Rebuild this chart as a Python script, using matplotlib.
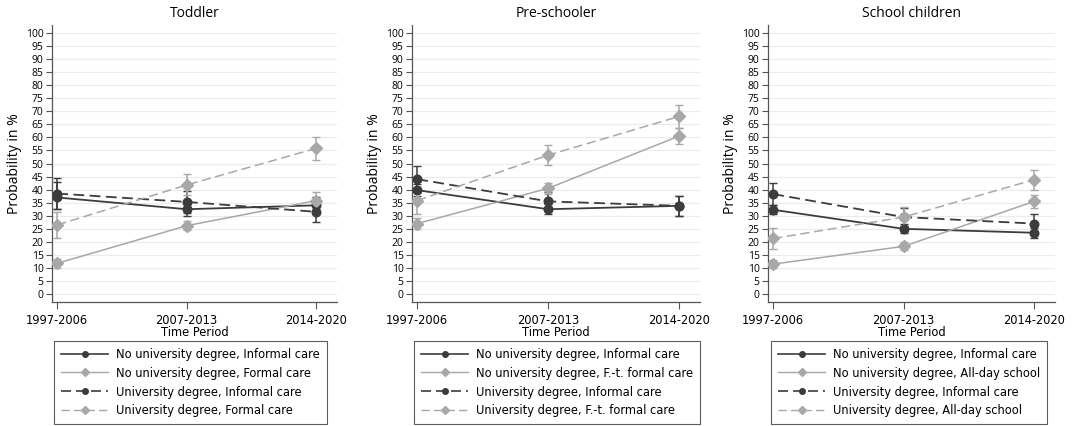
import numpy as np
import matplotlib
matplotlib.use('Agg')
import matplotlib.pyplot as plt
from matplotlib import font_manager
from matplotlib.lines import Line2D

periods = ['1997-2006', '2007-2013', '2014-2020']
titles = ['Toddler', 'Pre-schooler', 'School children']
formal_names = ['Formal care', 'F.-t. formal care', 'All-day school']

# estimates and confidence bounds per panel, series order:
# no uni informal, no uni formal, uni informal, uni formal
toddler_est = [[37.0, 32.5, 34.0], [11.8, 26.2, 35.8], [38.5, 35.3, 31.5], [26.5, 41.8, 55.8]]
toddler_lo = [[32.5, 30.0, 31.0], [10.0, 24.5, 32.5], [32.5, 31.0, 27.5], [21.5, 38.0, 51.5]]
toddler_hi = [[43.0, 35.0, 37.0], [13.5, 28.0, 39.0], [44.5, 39.5, 35.5], [31.5, 45.8, 60.0]]

presch_est = [[39.8, 32.5, 33.8], [27.0, 40.5, 60.5], [44.0, 35.5, 33.8], [35.8, 53.2, 68.0]]
presch_lo = [[37.5, 30.5, 30.0], [25.0, 38.5, 57.5], [39.0, 32.0, 30.0], [30.5, 49.5, 63.5]]
presch_hi = [[42.0, 34.5, 37.5], [29.0, 42.5, 63.5], [49.0, 39.0, 37.5], [41.0, 57.0, 72.5]]

school_est = [[32.3, 25.0, 23.5], [11.5, 18.3, 35.5], [38.3, 29.5, 27.0], [21.3, 29.5, 43.8]]
school_lo = [[30.5, 23.3, 21.5], [10.0, 17.0, 33.0], [34.0, 26.0, 23.5], [17.3, 26.0, 40.0]]
school_hi = [[34.0, 26.8, 25.5], [13.0, 19.8, 38.0], [42.7, 33.0, 30.5], [25.3, 33.2, 47.5]]

panels = [(toddler_est, toddler_lo, toddler_hi),
          (presch_est, presch_lo, presch_hi),
          (school_est, school_lo, school_hi)]

dark = '#3c3c3c'
light = '#a8a8a8'
styles = [
    dict(color=dark, ls='-', marker='o', ms=6.2, lw=1.3),
    dict(color=light, ls='-', marker='D', ms=6.0, lw=1.1),
    dict(color=dark, ls=(0, (6, 3)), marker='o', ms=6.2, lw=1.3),
    dict(color=light, ls=(0, (6, 3)), marker='D', ms=6.0, lw=1.1),
]

# look for a condensed regular face
cond = [f for f in font_manager.fontManager.ttflist
        if (f.stretch in ('condensed', 'semi-condensed') or 'Narrow' in f.name or 'Condensed' in f.name)
        and f.weight in (400, 'normal', 'regular', 'book') and f.style == 'normal']
if cond:
    narrow = dict(fname=cond[0].fname)
    nsize = 9.2
else:
    narrow = dict(family='DejaVu Sans')
    nsize = 8
nprop = font_manager.FontProperties(size=nsize, **narrow)

plt.rcParams['font.family'] = ['Open Sans', 'DejaVu Sans']

fig = plt.figure(figsize=(10.74, 4.26), dpi=100)
lefts = [52, 412, 768]
widths = [285, 288, 287]
leg_left = [54, 414, 771]
x = np.arange(len(periods))

for k in range(3):
    ax = fig.add_axes([lefts[k] / 1074, 1 - 302 / 426, widths[k] / 1074, 277 / 426])
    est, lo, hi = panels[k]
    for i in range(4):
        e = np.array(est[i]); l = np.array(lo[i]); h = np.array(hi[i])
        st = styles[i]
        ax.errorbar(x, e, yerr=[e - l, h - e], fmt='none', ecolor=st['color'],
                    elinewidth=1.1, capsize=3, capthick=1.0, zorder=2)
        ax.plot(x, e, color=st['color'], ls=st['ls'], lw=st['lw'], marker=st['marker'],
                ms=st['ms'], mec=st['color'], mfc=st['color'], zorder=3)
    ax.set_xlim(-0.04, 2.16)
    ax.set_ylim(-3, 103)
    ax.set_yticks(np.arange(0, 101, 5))
    ax.set_xticks(x)
    ax.set_xticklabels(periods, fontproperties=nprop)
    ax.tick_params(axis='y', labelsize=7.5, length=4, width=0.8, color='#555555', pad=2)
    ax.tick_params(axis='x', length=5, width=0.8, color='#555555', pad=4)
    ax.yaxis.grid(True, color='#ebebeb', lw=0.8)
    ax.set_axisbelow(True)
    for s in ['top', 'right']:
        ax.spines[s].set_visible(False)
    for s in ['left', 'bottom']:
        ax.spines[s].set_color('#555555')
        ax.spines[s].set_linewidth(0.9)
    ax.set_title(titles[k], fontsize=10, pad=6)
    ax.set_ylabel('Probability in %', fontsize=10, labelpad=3)
    ax.set_xlabel('Time Period', fontproperties=nprop, labelpad=-1)

    labels = ['No university degree, Informal care',
              'No university degree, ' + formal_names[k],
              'University degree, Informal care',
              'University degree, ' + formal_names[k]]
    handles = [Line2D([0, 1, 2], [0, 0, 0], color=s['color'], ls=s['ls'], lw=s['lw'] - 0.1,
                      marker=s['marker'], ms=4, markevery=[1])
               for s in styles]
    leg = fig.legend(handles, labels, loc='upper left',
                     bbox_to_anchor=(leg_left[k] / 1074, 1 - 341 / 426),
                     ncol=1, frameon=True, fancybox=False, edgecolor='#333333',
                     prop=nprop, handlelength=3.7,
                     labelspacing=0.45, borderpad=0.55, handletextpad=0.6,
                     borderaxespad=0)
    leg.get_frame().set_linewidth(0.8)

fig.savefig('out.png', dpi=100)
